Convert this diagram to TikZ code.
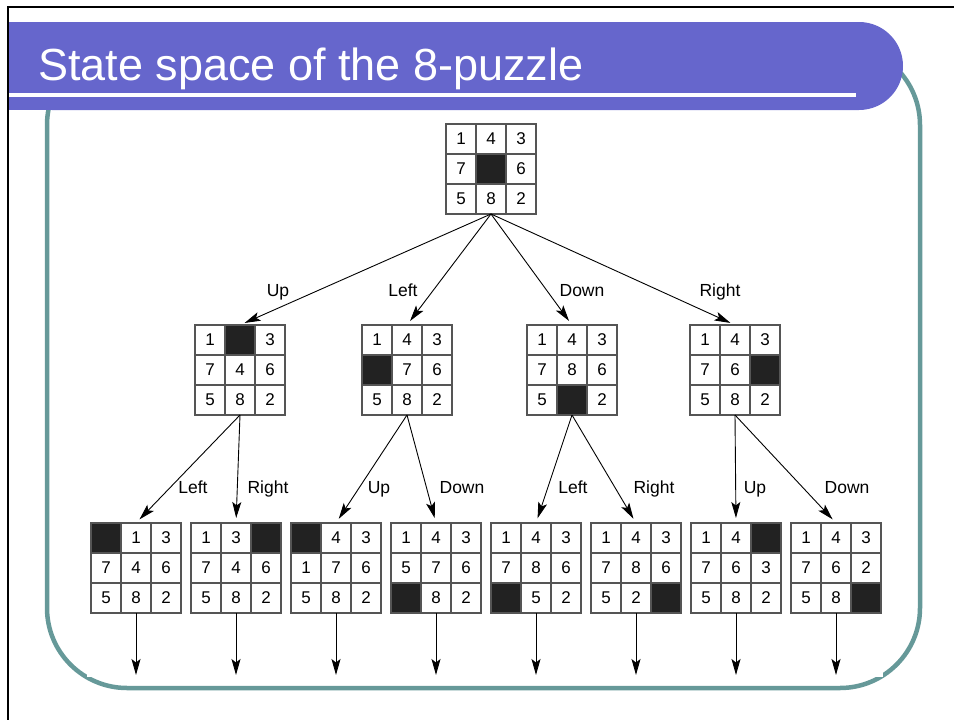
\documentclass[tikz,border=0pt]{standalone}
\usepackage{fontspec}
\setmainfont{Liberation Sans}
\usetikzlibrary{arrows.meta}

\definecolor{barblue}{RGB}{102,102,204}
\definecolor{rimteal}{RGB}{102,153,153}
\definecolor{gridgray}{RGB}{85,85,85}
\definecolor{holeblack}{RGB}{34,34,34}

\tikzset{
  board/.style={minimum size=90pt,inner sep=0pt,outer sep=0pt},
  tile/.style={draw=gridgray,line width=1.1pt},
  digit/.style={font=\fontsize{17}{17}\selectfont,inner sep=0pt},
  movelabel/.style={font=\fontsize{17.5}{17.5}\selectfont,anchor=base,inner sep=0pt},
  move/.style={line width=0.9pt,shorten >=5pt,-{Stealth[length=16pt,width=9pt,inset=3.5pt]}}
}

% #1 name, #2 centre, #3 tiles row by row (0 = blank)
\newcommand{\board}[3]{%
  \node[board] (#1) at (#2) {};
  \begin{scope}[shift={(#1.north west)}]
    \foreach \cell [count=\i from 0] in {#3} {
      \pgfmathtruncatemacro\col{mod(\i,3)}
      \pgfmathtruncatemacro\row{div(\i,3)}
      \ifnum\cell=0
        \fill[holeblack] (30*\col,30*\row) rectangle ++(30,30);
      \else
        \node[digit] at (30*\col+15,30*\row+15) {\cell};
      \fi
      \draw[tile] (30*\col,30*\row) rectangle ++(30,30);
    }
  \end{scope}}

\begin{document}
\begin{tikzpicture}[x=1pt,y=-1pt]
\useasboundingbox (0,0) rectangle (954,720);
% slide frame and title
\draw[rimteal,line width=4.5pt,rounded corners=80pt] (47,45) rectangle (920,688);
\fill[white] (87,115) rectangle (883,677);
\fill[barblue,rounded corners=44pt] (8,22) rectangle (903,110);
\fill[barblue] (8,22) rectangle (80,110);
\fill[white] (8,93) rectangle (856,97);
\draw[line width=2pt] (954,7) -- (8,7) -- (8,720);
\node[anchor=base west,text=white,font=\fontsize{45}{45}\selectfont,inner sep=0pt] (title) at (38,80) {State space of the 8-puzzle};

% states
\board{s0}{491,169}{1,4,3,7,0,6,5,8,2}
\board{s1}{240,370}{1,0,3,7,4,6,5,8,2}
\board{s2}{407,370}{1,4,3,0,7,6,5,8,2}
\board{s3}{572,370}{1,4,3,7,8,6,5,0,2}
\board{s4}{735,370}{1,4,3,7,6,0,5,8,2}
\board{s11}{136,568}{0,1,3,7,4,6,5,8,2}
\board{s12}{236,568}{1,3,0,7,4,6,5,8,2}
\board{s21}{336,568}{0,4,3,1,7,6,5,8,2}
\board{s22}{436,568}{1,4,3,5,7,6,0,8,2}
\board{s31}{536,568}{1,4,3,7,8,6,0,5,2}
\board{s32}{636,568}{1,4,3,7,8,6,5,2,0}
\board{s41}{736,568}{1,4,0,7,6,3,5,8,2}
\board{s42}{836,568}{1,4,3,7,6,2,5,8,0}

% moves
\foreach \n in {1,...,4} \draw[move] (s0.south) -- (s\n.north);
\foreach \n/\m in {1/1,1/2,2/1,2/2,3/1,3/2,4/1,4/2}
  \draw[move] (s\n.south) -- (s\n\m.north);
\foreach \n in {11,12,21,22,31,32,41,42} {
  \path (s\n.south) ++(0,67) coordinate (e\n);
  \draw[move] (s\n.south) -- (e\n);
}

\node[movelabel] (m1) at (278,296) {Up};
\node[movelabel] (m2) at (403,296) {Left};
\node[movelabel] (m3) at (582,296) {Down};
\node[movelabel] (m4) at (720,296) {Right};
\node[movelabel] (m11) at (193,493) {Left};
\node[movelabel] (m12) at (268,493) {Right};
\node[movelabel] (m21) at (379,493) {Up};
\node[movelabel] (m22) at (462,493) {Down};
\node[movelabel] (m31) at (573,493) {Left};
\node[movelabel] (m32) at (654,493) {Right};
\node[movelabel] (m41) at (755,493) {Up};
\node[movelabel] (m42) at (847,493) {Down};
\end{tikzpicture}
\end{document}
